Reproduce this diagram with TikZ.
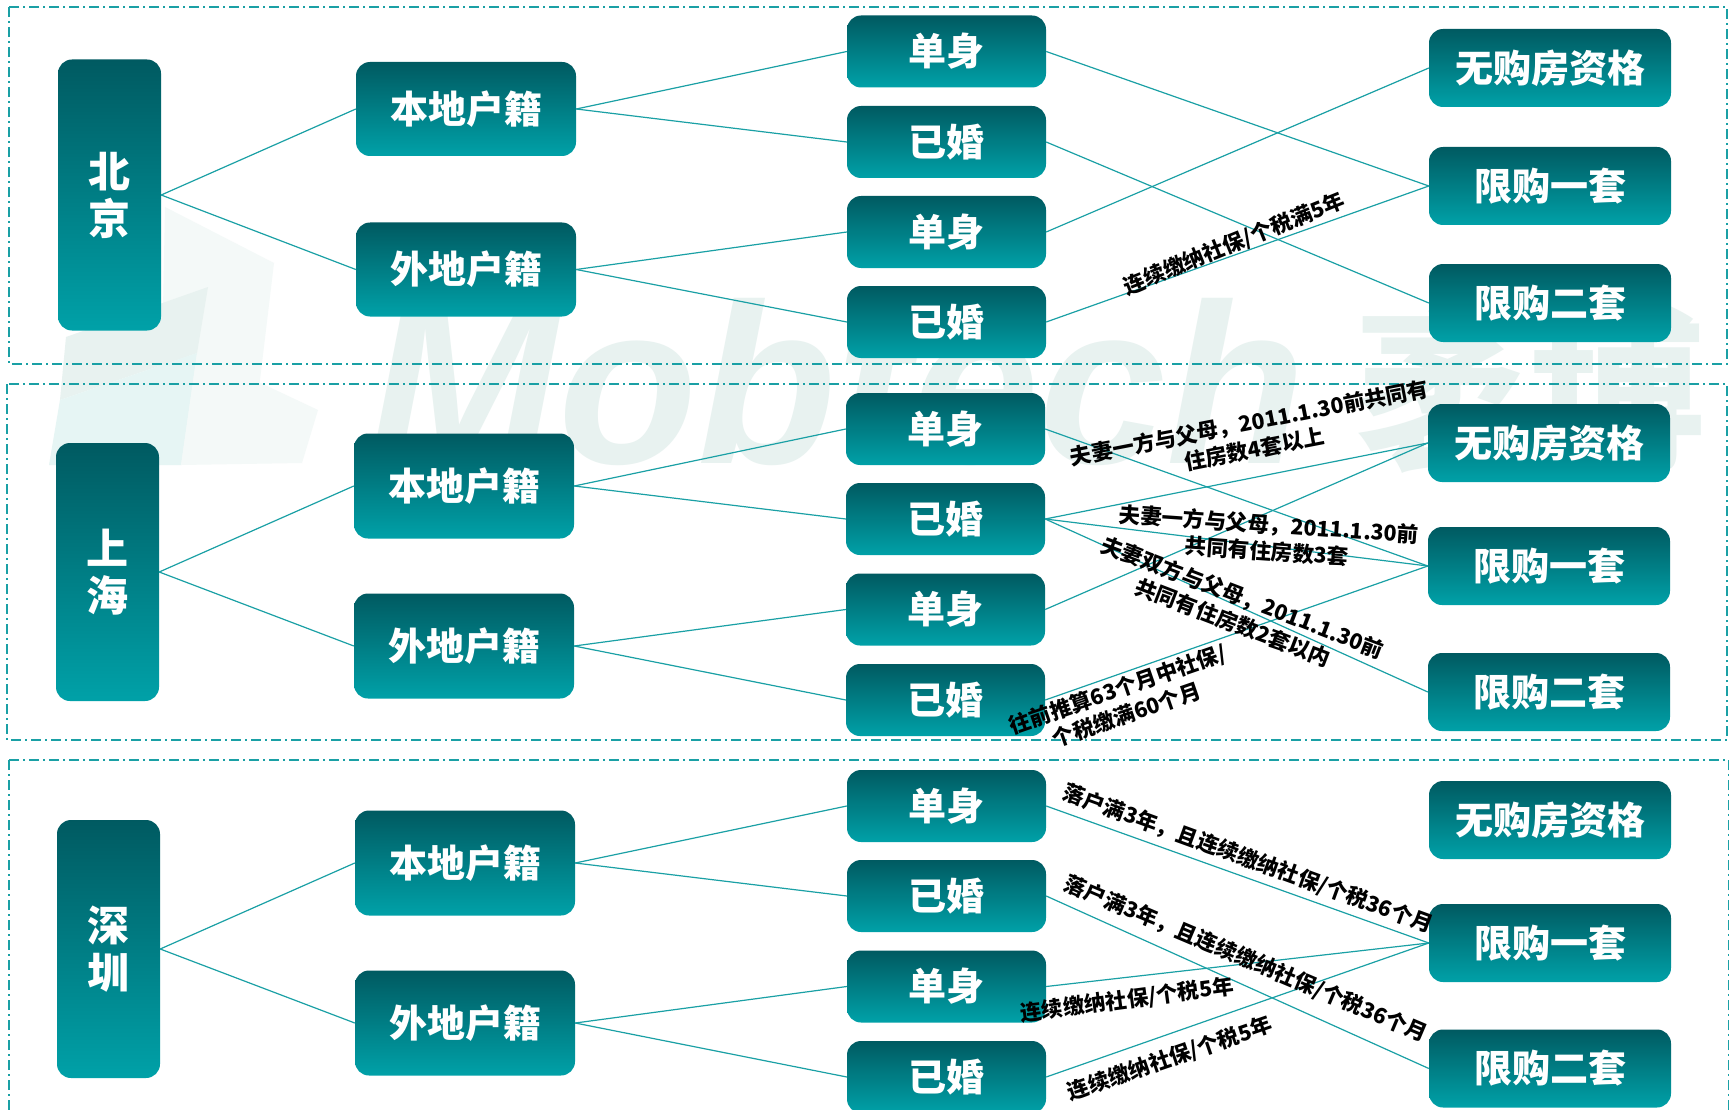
\documentclass[tikz,border=0pt]{standalone}
\usepackage{fontspec}
\setmainfont{Noto Sans CJK SC}
\newfontfamily\markfont{Liberation Sans}
\usetikzlibrary{calc}
\definecolor{myteal}{HTML}{1AA0A5}
\definecolor{mytop}{HTML}{005A61}
\definecolor{mybottom}{HTML}{00A1A8}
\definecolor{mymark}{HTML}{E8F2F0}
\definecolor{mymarklight}{HTML}{F4F9F8}
\definecolor{mymarkcyan}{HTML}{E6F5F4}

\begin{document}
\begin{tikzpicture}[x=1pt, y=-1pt,
    mybox/.style={rectangle, rounded corners=14pt, inner sep=0pt, top color=mytop, bottom color=mybottom, text=white, font=\fontsize{38}{48}\selectfont\bfseries, align=center},
    mycity/.style={mybox, minimum width=103pt, minimum height=258pt, font=\fontsize{42}{47}\selectfont\bfseries},
    mytype/.style={mybox, minimum width=220pt, minimum height=105pt},
    mystatus/.style={mybox, minimum width=199pt, minimum height=72pt},
    myresult/.style={mybox, minimum width=242pt, minimum height=78pt},
    myline/.style={draw=myteal, line width=1.2pt},
    myframe/.style={draw=myteal, line width=1.3pt, dash pattern=on 10pt off 4pt on 2pt off 4pt},
    mylabel/.style={inner sep=0pt, text=black, align=center, font=\fontsize{21.5}{27}\selectfont\bfseries}]
    \useasboundingbox (0,0) rectangle (1729,1110);
    \clip (0,0) rectangle (1729,1110);
    \fill[white] (0,0) rectangle (1729,1110);

    % watermark behind everything
    \fill[mymarklight] (165,207) -- (274,263) -- (250,463) -- (160,463) -- cycle;
    \fill[mymark] (208,287) -- (66,337) -- (60,400) -- (197,353) -- cycle;
    \fill[mymarkcyan] (197,353) -- (60,400) -- (49,465) -- (181,465) -- cycle;
    \fill[mymarklight] (197,353) -- (318,410) -- (302,463) -- (181,465) -- cycle;
    \node[anchor=base west, inner sep=0pt, text=mymark, font=\markfont\fontsize{228}{228}\selectfont\bfseries\itshape] (markName) at (368,463) {Mobtech};
    \node[inner sep=0pt, text=mymark, font=\fontsize{175}{175}\selectfont\bfseries] (markCn) at (1530,390) {袤博};

    % the three panels
    \draw[myframe] (9,7) rectangle (1727,364);
    \draw[myframe] (7,384) rectangle (1727,740);
    \draw[myframe] (9,760) rectangle (1729,1125);

    % Beijing
    \node[mycity, minimum height=271pt] (bjCity) at (109.5,195) {北\\京};
    \node[mytype, minimum height=94pt] (bjLocal) at (466,109) {本地户籍};
    \node[mytype, minimum height=94pt] (bjOther) at (466,269.5) {外地户籍};
    \node[mystatus] (bjSingleA) at (946.5,51.5) {单身};
    \node[mystatus] (bjMarriedA) at (946.5,142) {已婚};
    \node[mystatus] (bjSingleB) at (946.5,232) {单身};
    \node[mystatus] (bjMarriedB) at (946.5,322) {已婚};
    \node[myresult] (bjNone) at (1550,68) {无购房资格};
    \node[myresult] (bjOne) at (1550,186) {限购一套};
    \node[myresult] (bjTwo) at (1550,303) {限购二套};
    \draw[myline] (bjCity.east) -- (bjLocal.west);
    \draw[myline] (bjCity.east) -- (bjOther.west);
    \draw[myline] (bjLocal.east) -- (bjSingleA.west);
    \draw[myline] (bjLocal.east) -- (bjMarriedA.west);
    \draw[myline] (bjOther.east) -- (bjSingleB.west);
    \draw[myline] (bjOther.east) -- (bjMarriedB.west);
    \draw[myline] (bjSingleA.east) -- (bjOne.west);
    \draw[myline] (bjMarriedA.east) -- (bjTwo.west);
    \draw[myline] (bjSingleB.east) -- (bjNone.west);
    \draw[myline] (bjMarriedB.east) -- (bjOne.west);
    \node[mylabel, rotate=22] (bjTax) at (1234,244) {连续缴纳社保/个税满5年};

    % Shanghai
    \node[mycity] (shCity) at (107.5,572) {上\\海};
    \node[mytype] (shLocal) at (464,486) {本地户籍};
    \node[mytype] (shOther) at (464,646) {外地户籍};
    \node[mystatus] (shSingleA) at (945.5,429) {单身};
    \node[mystatus] (shMarriedA) at (945.5,519) {已婚};
    \node[mystatus] (shSingleB) at (945.5,609.5) {单身};
    \node[mystatus] (shMarriedB) at (945.5,700) {已婚};
    \node[myresult] (shNone) at (1549,443) {无购房资格};
    \node[myresult] (shOne) at (1549,566) {限购一套};
    \node[myresult] (shTwo) at (1549,692) {限购二套};
    \draw[myline] (shCity.east) -- (shLocal.west);
    \draw[myline] (shCity.east) -- (shOther.west);
    \draw[myline] (shLocal.east) -- (shSingleA.west);
    \draw[myline] (shLocal.east) -- (shMarriedA.west);
    \draw[myline] (shOther.east) -- (shSingleB.west);
    \draw[myline] (shOther.east) -- (shMarriedB.west);
    \draw[myline] (shSingleA.east) -- (shOne.west);
    \draw[myline] (shMarriedA.east) -- (shNone.west);
    \draw[myline] (shMarriedA.east) -- (shOne.west);
    \draw[myline] (shMarriedA.east) -- (shTwo.west);
    \draw[myline] (shSingleB.east) -- (shNone.west);
    \draw[myline] (shMarriedB.east) -- (shOne.west);
    \node[mylabel, rotate=11] (shFour) at (1252,436) {夫妻一方与父母，2011.1.30前共同有\\住房数4套以上};
    \node[mylabel, rotate=-4] (shThree) at (1268,538) {夫妻一方与父母，2011.1.30前\\共同有住房数3套};
    \node[mylabel, rotate=-21] (shBoth) at (1238,610) {夫妻双方与父母，2011.1.30前\\共同有住房数2套以内};
    \node[mylabel, rotate=19] (shBack) at (1122,702) {往前推算63个月中社保/\\个税缴满60个月};

    % Shenzhen
    \node[mycity] (szCity) at (108.5,949) {深\\圳};
    \node[mytype] (szLocal) at (465,863) {本地户籍};
    \node[mytype] (szOther) at (465,1023) {外地户籍};
    \node[mystatus] (szSingleA) at (946.5,806) {单身};
    \node[mystatus] (szMarriedA) at (946.5,896) {已婚};
    \node[mystatus] (szSingleB) at (946.5,986.5) {单身};
    \node[mystatus] (szMarriedB) at (946.5,1077) {已婚};
    \node[myresult] (szNone) at (1550,820) {无购房资格};
    \node[myresult] (szOne) at (1550,943) {限购一套};
    \node[myresult] (szTwo) at (1550,1068.5) {限购二套};
    \draw[myline] (szCity.east) -- (szLocal.west);
    \draw[myline] (szCity.east) -- (szOther.west);
    \draw[myline] (szLocal.east) -- (szSingleA.west);
    \draw[myline] (szLocal.east) -- (szMarriedA.west);
    \draw[myline] (szOther.east) -- (szSingleB.west);
    \draw[myline] (szOther.east) -- (szMarriedB.west);
    \draw[myline] (szSingleA.east) -- (szOne.west);
    \draw[myline] (szMarriedA.east) -- (szTwo.west);
    \draw[myline] (szSingleB.east) -- (szOne.west);
    \draw[myline] (szMarriedB.east) -- (szOne.west);
    \node[mylabel, rotate=-20] (szSettleA) at (1248,859) {落户满3年，且连续缴纳社保/个税36个月};
    \node[mylabel, rotate=-23] (szSettleB) at (1246,959) {落户满3年，且连续缴纳社保/个税36个月};
    \node[mylabel, rotate=7.5] (szTaxA) at (1127,1000) {连续缴纳社保/个税5年};
    \node[mylabel, rotate=19] (szTaxB) at (1170,1059) {连续缴纳社保/个税5年};
    \end{tikzpicture}
\end{document}
